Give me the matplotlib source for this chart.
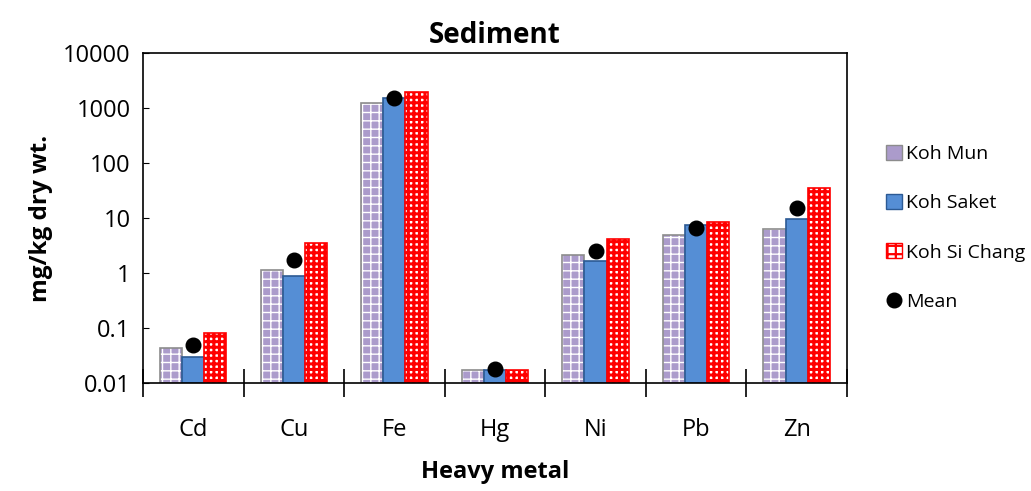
import matplotlib
matplotlib.use("Agg")
import matplotlib.pyplot as plt
import numpy as np
from matplotlib.lines import Line2D

# heavy metal concentrations in sediment (mg/kg dry wt.)
metals = ['Cd', 'Cu', 'Fe', 'Hg', 'Ni', 'Pb', 'Zn']
koh_mun = [0.043, 1.13, 1230, 0.0172, 2.12, 4.9, 6.3]
koh_saket = [0.030, 0.88, 1520, 0.0172, 1.65, 7.5, 9.6]
koh_si_chang = [0.081, 3.5, 1960, 0.0172, 4.15, 8.5, 35]
mean_vals = [0.049, 1.72, 1500, 0.018, 2.5, 6.6, 15]

plt.rcParams['font.family'] = ['Open Sans', 'DejaVu Sans']

fig = plt.figure(figsize=(10.31, 4.91), dpi=100)
ax = fig.add_axes([0.1387, 0.22, 0.6828, 0.672])

x = np.arange(len(metals))
w = 0.22
base = 0.01

# Koh Mun: lavender with white grid, grey outline
with plt.rc_context({'hatch.linewidth': 1.0}):
    ax.bar(x - w, np.array(koh_mun) - base, w, bottom=base, color='#ab9bcb',
           edgecolor='white', hatch='++', linewidth=0)
ax.bar(x - w, np.array(koh_mun) - base, w, bottom=base, facecolor='none',
       edgecolor='#8c8c8c', linewidth=1.2)

# Koh Saket: solid blue
ax.bar(x, np.array(koh_saket) - base, w, bottom=base, color='#558ed5',
       edgecolor='#2c5a94', linewidth=1.2)

# Koh Si Chang: red check on white
with plt.rc_context({'hatch.linewidth': 2.2}):
    ax.bar(x + w, np.array(koh_si_chang) - base, w, bottom=base, color='white',
           edgecolor='#ff0000', hatch='+++', linewidth=1.2)

ax.plot(x, mean_vals, 'o', color='black', markersize=10.5, zorder=5)

ax.set_yscale('log')
ax.set_ylim(0.01, 10000)
ax.set_xlim(-0.5, len(metals) - 0.5)
ax.set_yticks([0.01, 0.1, 1, 10, 100, 1000, 10000])
ax.set_yticklabels(['0.01', '0.1', '1', '10', '100', '1000', '10000'])
ax.yaxis.set_minor_locator(matplotlib.ticker.NullLocator())
ax.tick_params(axis='y', direction='in', length=4, labelsize=17, pad=9)

# category labels centred, tick marks on category boundaries
ax.set_xticks(x)
ax.set_xticklabels(metals, fontsize=17)
ax.tick_params(axis='x', which='major', length=0, pad=25)
ax.set_xticks(np.arange(len(metals) + 1) - 0.5, minor=True)
ax.tick_params(axis='x', which='minor', direction='inout', length=20, width=1.2)

for s in ax.spines.values():
    s.set_linewidth(1.2)

ax.set_title('Sediment', fontsize=20, fontweight='bold', pad=7)
ax.set_ylabel('mg/kg dry wt.', fontsize=17.5, fontweight='bold', labelpad=7)
ax.set_xlabel('Heavy metal', fontsize=17, fontweight='bold', labelpad=13)

# legend
plt.rcParams['hatch.linewidth'] = 1.6
handles = [
    plt.Rectangle((0, 0), 1, 1, facecolor='#ab9bcb', edgecolor='#8c8c8c'),
    plt.Rectangle((0, 0), 1, 1, facecolor='#558ed5', edgecolor='#2c5a94'),
    plt.Rectangle((0, 0), 1, 1, facecolor='white', edgecolor='#ff0000', hatch='++'),
    Line2D([], [], marker='o', color='black', linestyle='none', markersize=10.5),
]
fig.legend(handles, ['Koh Mun', 'Koh Saket', 'Koh Si Chang', 'Mean'],
           loc='upper left', bbox_to_anchor=(0.850, 0.725), frameon=False,
           fontsize=14, handlelength=0.8, handleheight=0.8, handletextpad=0.25,
           labelspacing=1.6, borderpad=0)

fig.savefig('out.png', dpi=100)
